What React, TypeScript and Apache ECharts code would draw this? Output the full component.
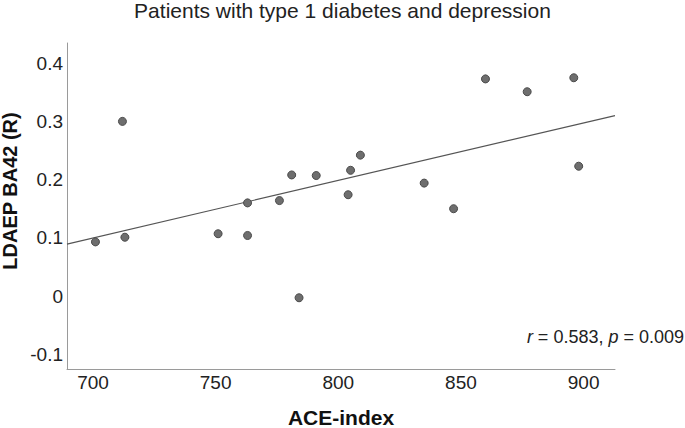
import React, { useEffect, useRef } from "react";
import * as echarts from "echarts";

const titleText = "Patients with type 1 diabetes and depression";
const xAxisName = "ACE-index";
const yAxisName = "LDAEP BA42 (R)";
const aceIndex = [701, 712, 713, 751, 763, 763, 776, 781, 784, 791, 804, 805, 809, 835, 847, 860, 877, 896, 898];
const ldaep = [0.093, 0.300, 0.101, 0.107, 0.104, 0.160, 0.164, 0.208, -0.003, 0.207, 0.174, 0.216, 0.242, 0.194, 0.150, 0.373, 0.351, 0.375, 0.223];
const xRange = [689.4, 912.8];
const yRange = [-0.1254, 0.4347];
const rText = "0.583";
const pText = "0.009";

const FONT = '"Liberation Sans", Arial, Helvetica, sans-serif';

function regression(xs: number[], ys: number[]) {
  const n = xs.length;
  const mx = xs.reduce((a, b) => a + b, 0) / n;
  const my = ys.reduce((a, b) => a + b, 0) / n;
  let sxy = 0, sxx = 0;
  for (let i = 0; i < n; i++) {
    sxy += (xs[i] - mx) * (ys[i] - my);
    sxx += (xs[i] - mx) * (xs[i] - mx);
  }
  const slope = sxy / sxx;
  return { slope, intercept: my - slope * mx };
}

export default function App() {
  const ref = useRef<HTMLDivElement>(null);
  useEffect(() => {
    if (!ref.current) return;
    const chart = echarts.init(ref.current, null, { renderer: "svg" });
    const { slope, intercept } = regression(aceIndex, ldaep);
    const fitLine = xRange.map((x) => [x, intercept + slope * x]);
    const near = (v: number, step: number) => Math.abs(v / step - Math.round(v / step)) < 1e-6;
    chart.setOption({
      animation: false,
      backgroundColor: "#ffffff",
      title: {
        text: titleText,
        left: "center",
        top: 0,
        padding: 0,
        textStyle: { fontFamily: FONT, fontSize: 21, fontWeight: "normal", color: "#222" },
      },
      grid: { left: 67, right: 70, top: 43, bottom: 59, containLabel: false, outerBoundsMode: "none" },
      xAxis: {
        type: "value",
        min: xRange[0],
        max: xRange[1],
        splitNumber: 5,
        name: xAxisName,
        nameLocation: "middle",
        nameGap: 40,
        nameTextStyle: { fontFamily: FONT, fontSize: 21, fontWeight: "bold", color: "#111", lineHeight: 17 },
        axisLine: { onZero: false, lineStyle: { color: "#9a9a9a", width: 1 } },
        axisTick: { show: false },
        splitLine: { show: false },
        axisLabel: {
          fontFamily: FONT,
          fontSize: 19,
          color: "#222",
          margin: 4,
          showMinLabel: false,
          showMaxLabel: false,
          formatter: (v: number) => (near(v, 50) ? String(Math.round(v)) : ""),
        },
      },
      yAxis: {
        type: "value",
        min: yRange[0],
        max: yRange[1],
        splitNumber: 6,
        axisLine: { show: true, onZero: false, lineStyle: { color: "#9a9a9a", width: 1 } },
        axisTick: { show: false },
        splitLine: { show: false },
        axisLabel: {
          fontFamily: FONT,
          fontSize: 19,
          color: "#222",
          margin: 4,
          showMinLabel: false,
          showMaxLabel: false,
          formatter: (v: number) => {
            if (!near(v, 0.1)) return "";
            const r = Math.round(v * 10) / 10;
            return r === 0 ? "0" : String(r);
          },
        },
      },
      graphic: [
        {
          type: "text",
          x: 10,
          y: 191,
          rotation: Math.PI / 2,
          style: {
            text: yAxisName,
            font: `bold 20px ${FONT}`,
            fill: "#111",
            textAlign: "center",
            textVerticalAlign: "middle",
          },
        },
        {
          type: "text",
          right: 1,
          top: 328,
          style: {
            text: `{i|r} = ${rText}, {i|p} = ${pText}`,
            rich: {
              i: { fontStyle: "italic", fontFamily: FONT, fontSize: 18, fill: "#222" },
            },
            font: `18px ${FONT}`,
            fill: "#222",
          },
        },
      ],
      series: [
        {
          type: "line",
          data: fitLine,
          symbol: "none",
          lineStyle: { color: "#555", width: 1.2 },
          z: 1,
          silent: true,
        },
        {
          type: "scatter",
          data: aceIndex.map((x, i) => [x, ldaep[i]]),
          symbolSize: 8,
          itemStyle: { color: "#6e6e6e", borderColor: "#4a4a4a", borderWidth: 1, opacity: 1 },
          z: 2,
        },
      ],
    });
    return () => chart.dispose();
  }, []);
  return <div ref={ref} style={{ position: "fixed", left: 0, top: 0, width: 685, height: 428 }} />;
}
